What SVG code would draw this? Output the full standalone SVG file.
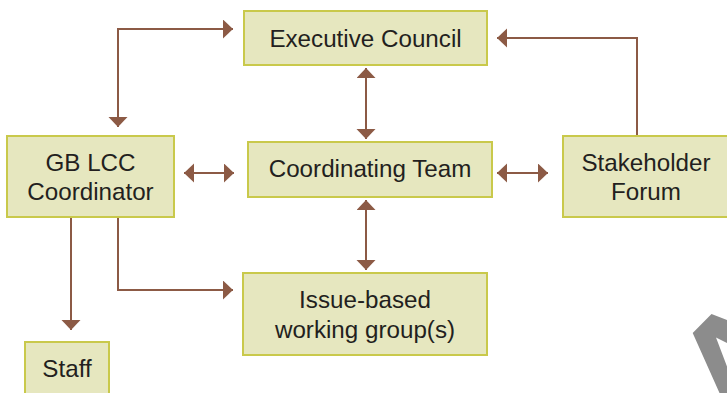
<svg xmlns="http://www.w3.org/2000/svg" width="727" height="393" viewBox="0 0 727 393">
<style>
.box{fill:#E6E7BF;stroke:#C9C94B;stroke-width:2}
.lbl{font-family:"Liberation Sans",Arial,sans-serif;font-size:24.2px;fill:#231F20;text-anchor:middle}
.con{fill:none;stroke:#8C5A45;stroke-width:2}
</style>
<defs>
<marker id="ah" markerUnits="userSpaceOnUse" markerWidth="12" markerHeight="20" refX="10" refY="9.5" orient="auto-start-reverse" viewBox="0 0 12 20">
<path d="M0,0 L10,9.5 L0,19 z" fill="#8C5A45"/>
</marker>
</defs>
<rect x="0" y="0" width="727" height="393" fill="#FFFFFF"/>
<g id="connectors">
<path class="con" d="M233,29 H118 V127" marker-start="url(#ah)" marker-end="url(#ah)"/>
<path class="con" d="M184,173 H234" marker-start="url(#ah)" marker-end="url(#ah)"/>
<path class="con" d="M366,68 V139" marker-start="url(#ah)" marker-end="url(#ah)"/>
<path class="con" d="M366,200 V270" marker-start="url(#ah)" marker-end="url(#ah)"/>
<path class="con" d="M497,173 H548" marker-start="url(#ah)" marker-end="url(#ah)"/>
<path class="con" d="M637,136 V38 H497" marker-end="url(#ah)"/>
<path class="con" d="M71,217 V330" marker-end="url(#ah)"/>
<path class="con" d="M118,217 V290 H233" marker-end="url(#ah)"/>
</g>
<g id="executive-council">
<rect class="box" x="244" y="11" width="243" height="54"/>
<text class="lbl" x="365.5" y="47">Executive Council</text>
</g>
<g id="coordinating-team">
<rect class="box" x="248" y="142" width="244" height="55"/>
<text class="lbl" x="370" y="177">Coordinating Team</text>
</g>
<g id="gb-lcc-coordinator">
<rect class="box" x="7" y="136" width="167" height="81"/>
<text class="lbl" x="90.5" y="171">GB LCC</text>
<text class="lbl" x="90.5" y="200">Coordinator</text>
</g>
<g id="stakeholder-forum">
<rect class="box" x="563" y="136" width="167" height="81"/>
<text class="lbl" x="646" y="171">Stakeholder</text>
<text class="lbl" x="646" y="200">Forum</text>
</g>
<g id="issue-based">
<rect class="box" x="243" y="273" width="244" height="82"/>
<text class="lbl" x="365" y="308">Issue-based</text>
<text class="lbl" x="365" y="338">working group(s)</text>
</g>
<g id="staff">
<rect class="box" x="25" y="342" width="84" height="60"/>
<text class="lbl" x="67" y="377">Staff</text>
</g>
<path d="M711.5,314 L727,320 L727,393 L719.5,393 L692.7,333 Z M716,337.5 L727,343 L727,366.5 Z" fill="#8C8C8C" fill-rule="evenodd"/>
</svg>
